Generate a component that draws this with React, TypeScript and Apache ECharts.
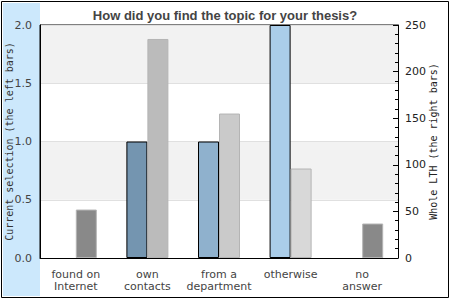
import React, { useEffect, useRef } from "react";
import * as echarts from "echarts";

const title = "How did you find the topic for your thesis?";
const categories = ["found on\nInternet", "own\ncontacts", "from a\ndepartment", "otherwise", "no\nanswer"];
const currentSelection = [0, 1, 1, 2, 0];
const wholeLTH = [52, 235, 155, 96, 37];
const leftColors = ["#7495b0", "#7495b0", "#8fb1cd", "#aacde9", "#aacde9"];
const rightColors = ["#898989", "#bbbbbb", "#cacaca", "#d8d8d8", "#898989"];
const leftAxisName = "Current selection (the left bars)";
const rightAxisName = "Whole LTH (the right bars)";

export default function App() {
  const ref = useRef<HTMLDivElement>(null);
  useEffect(() => {
    if (!ref.current) return;
    const chart = echarts.init(ref.current, null, { renderer: "svg" });
    chart.setOption({
      animation: false,
      backgroundColor: "#ffffff",
      graphic: [
        {
          type: "rect",
          shape: { x: 1.5, y: 1.5, width: 447, height: 296 },
          style: { fill: "#ffffff", stroke: "#000000", lineWidth: 1 },
          z: -10,
        },
        {
          type: "rect",
          shape: { x: 3, y: 3, width: 37, height: 293 },
          style: { fill: "#cce8fc" },
          z: -9,
        },
      ],
      title: {
        text: title,
        left: "center",
        top: 4,
        textStyle: { fontFamily: "Liberation Sans", fontSize: 13, fontWeight: "bold", color: "#444444" },
      },
      grid: {
        left: 40, right: 52, top: 25, bottom: 42,
        outerBoundsMode: "none",
        containLabel: false,
        show: true, borderColor: "#000", borderWidth: 1, backgroundColor: "transparent",
      },
      xAxis: {
        type: "category",
        data: categories,
        axisLine: { lineStyle: { color: "#000" } },
        axisTick: { show: false },
        axisLabel: { interval: 0, margin: 10, fontFamily: "DejaVu Sans", fontSize: 11, color: "#444", lineHeight: 12 },
      },
      yAxis: [
        {
          type: "value",
          min: 0,
          max: 2,
          interval: 0.5,
          name: leftAxisName,
          nameLocation: "middle",
          nameGap: 26,
          nameMoveOverlap: false,
          nameTextStyle: { fontFamily: "DejaVu Sans Mono", fontSize: 10, color: "#333" },
          axisLine: { show: true, lineStyle: { color: "#000" } },
          axisTick: { show: false },
          axisLabel: { margin: 8, fontFamily: "DejaVu Sans", fontSize: 11, color: "#444", formatter: (v: number) => v.toFixed(1) },
          splitLine: { show: true, lineStyle: { color: "#e0e0e0" } },
          splitArea: { show: true, areaStyle: { color: ["#ffffff", "#f2f2f2"] } },
        },
        {
          type: "value",
          min: 0,
          max: 250,
          interval: 50,
          position: "right",
          name: rightAxisName,
          nameLocation: "middle",
          nameGap: 30,
          nameMoveOverlap: false,
          nameTextStyle: { fontFamily: "DejaVu Sans Mono", fontSize: 10, color: "#222" },
          axisLine: { show: true, lineStyle: { color: "#000" } },
          axisTick: { show: true, inside: true, length: 5, lineStyle: { color: "#000" } },
          minorTick: { show: true, splitNumber: 5, length: 3, lineStyle: { color: "#000" } },
          axisLabel: { margin: 7, fontFamily: "DejaVu Sans", fontSize: 11, color: "#222" },
          splitLine: { show: false },
        },
      ],
      series: [
        {
          type: "bar",
          yAxisIndex: 0,
          barWidth: 21,
          barGap: "0%",
          data: currentSelection.map((v, i) => ({
            value: v,
            itemStyle: { color: leftColors[i], borderColor: "#000", borderWidth: v === 0 ? 0 : 1 },
          })),
        },
        {
          type: "bar",
          yAxisIndex: 1,
          barWidth: 21,
          barGap: "0%",
          data: wholeLTH.map((v, i) => ({
            value: v,
            itemStyle: { color: rightColors[i], borderColor: "#b4b4b4", borderWidth: 1 },
          })),
        },
      ],
    });
    return () => chart.dispose();
  }, []);
  return <div ref={ref} style={{ width: 450, height: 300, position: "absolute", left: 0, top: 0 }} />;
}
